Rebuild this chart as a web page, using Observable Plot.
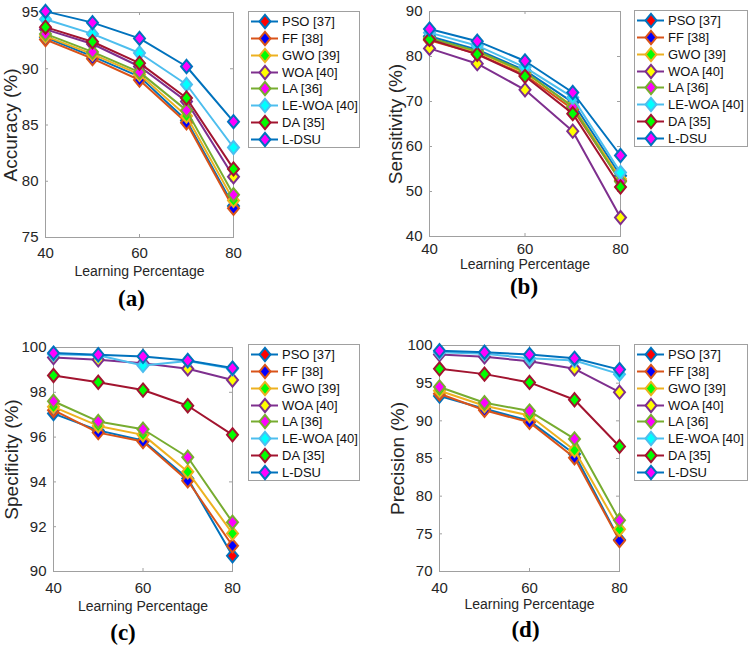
<!DOCTYPE html>
<html><head><meta charset="utf-8">
<script src="https://cdn.jsdelivr.net/npm/d3@7"></script>
<script src="https://cdn.jsdelivr.net/npm/@observablehq/plot@0.6"></script>
<style>
body{margin:0;background:#fff;}
#root{position:relative;width:749px;height:646px;overflow:hidden;font-family:"Liberation Sans",Arial,sans-serif;background:#fff;}
.panel{position:absolute;}
.legend{position:absolute;border:1px solid #a0a0a0;background:#fff;box-sizing:border-box;}
.legend .row{position:absolute;left:0;height:17px;display:flex;align-items:center;font-size:13px;color:#111;white-space:nowrap;}
.legend svg{display:block;}
</style></head><body><div id="root"></div>
<script>
// ---- data ----
const learningPct = [40, 50, 60, 70, 80];
const xTicks = [40, 60, 80];
const seriesNames = ["PSO [37]", "FF [38]", "GWO [39]", "WOA [40]", "LA [36]", "LE-WOA [40]", "DA [35]", "L-DSU"];
const lineColors = ["#0072BD", "#D95319", "#EDB120", "#7E2F8E", "#77AC30", "#4DBEEE", "#A2142F", "#0072BD"];
const markerFills = ["#FF0000", "#0000FF", "#00FF00", "#FFFF00", "#FF00FF", "#00FFFF", "#00FF00", "#FF00FF"];

const accuracy = [
  [92.8, 91.1, 89.3, 85.4, 77.8],
  [92.6, 90.9, 89.0, 85.2, 77.6],
  [92.9, 91.3, 89.5, 85.8, 78.3],
  [93.5, 92.2, 90.2, 87.1, 80.4],
  [93.1, 91.5, 89.7, 86.3, 78.8],
  [94.4, 93.1, 91.4, 88.6, 83.0],
  [93.7, 92.4, 90.5, 87.4, 81.1],
  [95.1, 94.1, 92.7, 90.2, 85.3]
];
const sensitivity = [
  [84.5, 81.5, 76.9, 69.8, 53.5],
  [83.6, 80.6, 75.9, 68.3, 52.4],
  [83.9, 81.0, 76.4, 69.0, 52.8],
  [81.8, 78.4, 72.6, 63.4, 44.2],
  [84.1, 81.2, 76.6, 68.8, 52.2],
  [85.3, 82.4, 77.6, 70.9, 54.2],
  [83.8, 80.5, 75.6, 67.3, 51.0],
  [86.1, 83.4, 79.0, 72.0, 58.0]
];
const specificity = [
  [97.05, 96.3, 95.85, 94.15, 90.7],
  [97.2, 96.2, 95.8, 94.05, 91.15],
  [97.35, 96.5, 96.1, 94.45, 91.7],
  [99.55, 99.45, 99.3, 99.05, 98.55],
  [97.6, 96.7, 96.35, 95.1, 92.2],
  [99.7, 99.65, 99.2, 99.4, 99.05],
  [98.75, 98.45, 98.1, 97.4, 96.1],
  [99.75, 99.68, 99.6, 99.42, 99.08]
];
const precision = [
  [93.3, 91.6, 90.0, 85.6, 74.2],
  [93.6, 91.4, 89.8, 85.1, 74.1],
  [94.0, 92.0, 90.7, 86.1, 75.6],
  [98.8, 98.5, 97.9, 96.9, 93.8],
  [94.5, 92.4, 91.3, 87.6, 76.8],
  [99.1, 98.9, 98.3, 98.0, 96.2],
  [96.9, 96.2, 95.1, 92.8, 86.6],
  [99.3, 99.1, 98.8, 98.3, 96.8]
];
const accuracyTicks = [75, 80, 85, 90, 95];
const sensitivityTicks = [40, 50, 60, 70, 80, 90];
const specificityTicks = [90, 92, 94, 96, 98, 100];
const precisionTicks = [70, 75, 80, 85, 90, 95, 100];
const xLabel = "Learning Percentage";

// ---- drawing ----
const diamond = {
  draw(ctx, size) {
    const r = Math.sqrt(size / Math.PI), h = r * 1.2;
    ctx.moveTo(0, -h); ctx.lineTo(r, 0); ctx.lineTo(0, h); ctx.lineTo(-r, 0); ctx.closePath();
  }
};
const root = document.getElementById("root");
const frameColor = "#a0a0a0";

function panel(cfg) {
  const fh = cfg.height - cfg.mt - cfg.mb;
  const fw = cfg.width - cfg.ml - cfg.mr;
  const marks = [
    Plot.frame({stroke: frameColor}),
    Plot.tickX(xTicks, {x: d => d, insetTop: fh - 3, stroke: frameColor}),
    Plot.tickX(xTicks, {x: d => d, insetBottom: fh - 3, stroke: frameColor}),
    Plot.tickY(cfg.ticks, {y: d => d, insetRight: fw - 3, stroke: frameColor}),
    Plot.tickY(cfg.ticks, {y: d => d, insetLeft: fw - 3, stroke: frameColor}),
    Plot.axisX(xTicks, {tickSize: 0, tickPadding: cfg.xPad, fontSize: 15, label: null}),
    Plot.axisY(cfg.ticks, {tickSize: 0, tickPadding: 7, fontSize: 15, label: null})
  ];
  seriesNames.forEach((name, si) => {
    const d = learningPct.map((x, i) => ({series: name, x, y: cfg.values[si][i]}));
    marks.push(Plot.line(d, {x: "x", y: "y", stroke: lineColors[si], strokeWidth: 2}));
    marks.push(Plot.dot(d, {x: "x", y: "y", symbol: diamond, r: 5.5, fill: markerFills[si], stroke: lineColors[si], strokeWidth: 2}));
  });
  marks.push(Plot.text([xLabel], {text: d => d, frameAnchor: "bottom", textAnchor: "middle", lineAnchor: "middle", dy: cfg.xlDy, fontSize: 14}));
  marks.push(Plot.text([cfg.yLabel], {text: d => d, frameAnchor: "left", textAnchor: "middle", lineAnchor: "middle", dx: cfg.ylDx, rotate: -90, fontSize: 19}));
  marks.push(Plot.text([cfg.letter], {text: d => d, frameAnchor: "bottom", textAnchor: "middle", lineAnchor: "middle", dy: cfg.letDy, dx: cfg.letDx, fontSize: 23, fontWeight: "bold", fill: "#000", fontFamily: "Liberation Serif, Times New Roman, serif"}));
  const svg = Plot.plot({
    width: cfg.width, height: cfg.height,
    marginLeft: cfg.ml, marginRight: cfg.mr, marginTop: cfg.mt, marginBottom: cfg.mb,
    x: {domain: [40, 80]},
    y: {domain: [cfg.ticks[0], cfg.ticks[cfg.ticks.length - 1]]},
    style: {fontFamily: "Liberation Sans, Arial, sans-serif", color: "#262626", background: "transparent", overflow: "visible"},
    marks
  });
  const wrap = document.createElement("div");
  wrap.className = "panel";
  wrap.style.left = cfg.left + "px";
  wrap.style.top = cfg.top + "px";
  wrap.appendChild(svg);
  root.appendChild(wrap);
}

function legend(left, top, width) {
  const div = document.createElement("div");
  div.className = "legend";
  div.style.left = left + "px"; div.style.top = top + "px";
  div.style.width = width + "px"; div.style.height = "137px";
  seriesNames.forEach((name, i) => {
    const row = document.createElement("div");
    row.className = "row";
    row.style.top = (1.2 + 16.8 * i) + "px";
    row.innerHTML = `<svg width="32" height="17"><line x1="2" x2="29" y1="8.5" y2="8.5" stroke="${lineColors[i]}" stroke-width="2"/><path d="M16,1.8 L21.5,8.5 L16,15.2 L10.5,8.5Z" fill="${markerFills[i]}" stroke="${lineColors[i]}" stroke-width="2"/></svg><span style="margin-left:1px">${name}</span>`;
    div.appendChild(row);
  });
  root.appendChild(div);
}

panel({left: 0, top: 0, width: 243, height: 320, ml: 45, mr: 10, mt: 12, mb: 83,
  values: accuracy, ticks: accuracyTicks, yLabel: "Accuracy (%)", letter: "(a)",
  xPad: 10, xlDy: 34, ylDx: -35, letDy: 61, letDx: -8});
panel({left: 380, top: 0, width: 248, height: 320, ml: 49, mr: 8, mt: 11, mb: 84,
  values: sensitivity, ticks: sensitivityTicks, yLabel: "Sensitivity (%)", letter: "(b)",
  xPad: 7, xlDy: 28, ylDx: -34, letDy: 50, letDx: -1});
panel({left: 0, top: 323, width: 243, height: 323, ml: 53, mr: 11, mt: 24, mb: 75,
  values: specificity, ticks: specificityTicks, yLabel: "Specificity (%)", letter: "(c)",
  xPad: 11, xlDy: 35, ylDx: -42, letDy: 61, letDx: -20});
panel({left: 380, top: 323, width: 248, height: 323, ml: 59, mr: 9, mt: 22, mb: 75,
  values: precision, ticks: precisionTicks, yLabel: "Precision (%)", letter: "(d)",
  xPad: 11, xlDy: 33, ylDx: -42, letDy: 58, letDx: -4});

legend(248, 11, 112);
legend(634, 10, 114);
legend(248, 344, 112);
legend(634, 344, 114);
</script>
</body></html>
